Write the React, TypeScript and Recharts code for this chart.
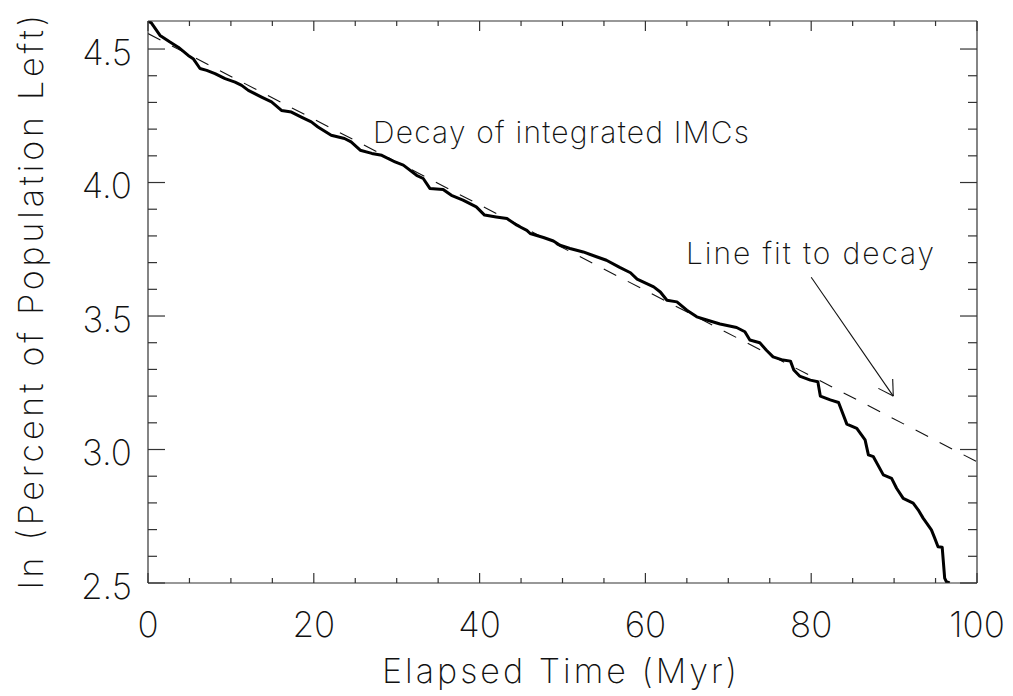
import React from "react";
import { LineChart, Line, XAxis, YAxis, ReferenceLine } from "recharts";

// ---- data ----
const timeMyr = [
  0, 0.4, 1.45, 2.65, 3.65, 4.85, 5.45, 6.27, 7.08, 8.08, 9.3, 10.5, 11.3, 12.1, 13.7, 14.9, 16.1, 17.3,
  18.5, 19.7, 20.5, 22.1, 23.7, 24.5, 25.6, 27.0, 28.2, 29.8, 30.8, 32.4, 33.2, 34.0, 35.6, 36.6, 38.0,
  39.6, 40.6, 42.0, 43.3, 44.5, 45.7, 46.1, 47.7, 48.9, 49.7, 50.9, 52.5, 54.1, 55.3, 56.9, 58.2, 59.0,
  61.0, 61.8, 62.6, 63.8, 65.0, 66.2, 67.4, 69.0, 71.0, 72.0, 72.6, 73.8, 74.6, 75.4, 76.6, 77.5, 77.9,
  78.6, 79.9, 80.8, 81.1, 82.3, 83.3, 84.3, 85.5, 86.5, 86.9, 87.5, 88.7, 89.7, 90.3, 91.1, 92.3, 92.9,
  93.5, 94.5, 94.9, 95.3, 95.8, 96.1, 96.3, 96.7,
];
const lnPercentLeft = [
  4.605, 4.598, 4.551, 4.526, 4.507, 4.476, 4.464, 4.427, 4.42, 4.408, 4.389, 4.376, 4.364, 4.345, 4.32,
  4.302, 4.27, 4.264, 4.245, 4.227, 4.208, 4.177, 4.165, 4.152, 4.121, 4.109, 4.102, 4.077, 4.065, 4.027,
  4.015, 3.978, 3.974, 3.952, 3.934, 3.909, 3.878, 3.871, 3.865, 3.84, 3.821, 3.809, 3.794, 3.781, 3.765,
  3.753, 3.74, 3.722, 3.709, 3.682, 3.662, 3.638, 3.609, 3.59, 3.559, 3.553, 3.522, 3.497, 3.485, 3.47,
  3.457, 3.441, 3.41, 3.4, 3.372, 3.347, 3.335, 3.331, 3.298, 3.275, 3.26, 3.254, 3.2, 3.186, 3.176,
  3.095, 3.079, 3.036, 2.98, 2.973, 2.905, 2.892, 2.855, 2.817, 2.799, 2.774, 2.743, 2.699, 2.668, 2.636,
  2.634, 2.518, 2.505, 2.5,
];
const fitTime = [0, 100];
const fitValue = [4.558, 2.954];

const xTicks = [0, 5, 10, 15, 20, 25, 30, 35, 40, 45, 50, 55, 60, 65, 70, 75, 80, 85, 90, 95, 100];
const xMajor = [0, 20, 40, 60, 80, 100];
const yTicks = [2.5, 2.6, 2.7, 2.8, 2.9, 3.0, 3.1, 3.2, 3.3, 3.4, 3.5, 3.6, 3.7, 3.8, 3.9, 4.0, 4.1, 4.2, 4.3, 4.4, 4.5];
const yMajor = [2.5, 3.0, 3.5, 4.0, 4.5];

const arrowStart = { t: 80, v: 3.645 };
const arrowTip = { t: 89.9, v: 3.2 };
const arrowBarb1 = { t: 88.1, v: 3.229 };
const arrowBarb2 = { t: 89.83, v: 3.264 };

const xTitle = "Elapsed Time (Myr)";
const yTitle = "ln (Percent of Population Left)";
const note1 = "Decay of integrated IMCs";
const note2 = "Line fit to decay";

// ---- layout constants ----
const W = 1013;
const H = 696;
const PL = 148;
const PT = 21;
const PR = 977;
const PB = 583;
const FONT = "Inter, 'DejaVu Sans', sans-serif";
const TXT = "#111";
const AX = "#333";
const FW = 200;

const curveData = timeMyr.map((t, i) => ({ t, v: lnPercentLeft[i] }));
const fitData = fitTime.map((t, i) => ({ t, v: fitValue[i] }));

const isMajor = (arr: number[], v: number) => arr.some((m) => Math.abs(m - v) < 1e-6);

const BottomTick = (p: any) => {
  const v = p.payload.value;
  const major = isMajor(xMajor, v);
  return (
    <g>
      <line x1={p.x} x2={p.x} y1={PB} y2={PB - (major ? 10 : 5)} stroke={AX} strokeWidth={1.2} />
      {major && (
        <text x={p.x} y={637} textAnchor="middle" fontFamily={FONT} fontWeight={FW} fontSize={35} fill={TXT}>
          {v}
        </text>
      )}
    </g>
  );
};
const TopTick = (p: any) => {
  const v = p.payload.value;
  const major = isMajor(xMajor, v);
  return <line x1={p.x} x2={p.x} y1={PT} y2={PT + (major ? 10 : 5)} stroke={AX} strokeWidth={1.2} />;
};
const LeftTick = (p: any) => {
  const v = p.payload.value;
  const major = isMajor(yMajor, v);
  return (
    <g>
      <line x1={PL} x2={PL + (major ? 17 : 9)} y1={p.y} y2={p.y} stroke={AX} strokeWidth={1.2} />
      {major && (
        <text x={132} y={p.y + 15.5} textAnchor="end" fontFamily={FONT} fontWeight={FW} fontSize={35} fill={TXT}>
          {v.toFixed(1)}
        </text>
      )}
    </g>
  );
};
const RightTick = (p: any) => {
  const v = p.payload.value;
  const major = isMajor(yMajor, v);
  return <line x1={PR} x2={PR - (major ? 17 : 9)} y1={p.y} y2={p.y} stroke={AX} strokeWidth={1.2} />;
};

export default function App() {
  return (
    <div style={{ position: "absolute", left: 0, top: 0, width: W, height: H, background: "#fff" }}>
      <LineChart
        width={W}
        height={H}
        margin={{ top: PT - 10, right: W - PR - 10, left: PL - 60, bottom: H - PB - 30 }}
      >
        <XAxis
          dataKey="t"
          type="number"
          domain={[0, 100]}
          ticks={xTicks}
          interval={0}
          height={30}
          tickLine={false}
          axisLine={{ stroke: AX, strokeWidth: 1.2 }}
          tick={<BottomTick />}
          allowDataOverflow
        />
        <XAxis
          xAxisId="top"
          orientation="top"
          dataKey="t"
          type="number"
          domain={[0, 100]}
          ticks={xTicks}
          interval={0}
          height={10}
          tickLine={false}
          axisLine={{ stroke: AX, strokeWidth: 1.2 }}
          tick={<TopTick />}
          allowDataOverflow
        />
        <YAxis
          type="number"
          domain={[2.5, 4.605]}
          ticks={yTicks}
          interval={0}
          width={60}
          tickLine={false}
          axisLine={{ stroke: AX, strokeWidth: 1.2 }}
          tick={<LeftTick />}
          allowDataOverflow
        />
        <YAxis
          yAxisId="right"
          orientation="right"
          type="number"
          domain={[2.5, 4.605]}
          ticks={yTicks}
          interval={0}
          width={10}
          tickLine={false}
          axisLine={{ stroke: AX, strokeWidth: 1.2 }}
          tick={<RightTick />}
          allowDataOverflow
        />
        <Line
          data={fitData}
          dataKey="v"
          type="linear"
          stroke="#111"
          strokeWidth={1.1}
          strokeDasharray="14 13"
          dot={false}
          activeDot={false}
          isAnimationActive={false}
        />
        <Line
          data={curveData}
          dataKey="v"
          type="linear"
          stroke="#000"
          strokeWidth={3}
          strokeLinejoin="round"
          dot={false}
          activeDot={false}
          isAnimationActive={false}
        />
        <ReferenceLine
          segment={[{ x: arrowStart.t, y: arrowStart.v }, { x: arrowTip.t, y: arrowTip.v }]}
          stroke="#111"
          strokeWidth={1.1}
          ifOverflow="visible"
        />
        <ReferenceLine
          segment={[{ x: arrowBarb1.t, y: arrowBarb1.v }, { x: arrowTip.t, y: arrowTip.v }]}
          stroke="#111"
          strokeWidth={1.1}
          ifOverflow="visible"
        />
        <ReferenceLine
          segment={[{ x: arrowBarb2.t, y: arrowBarb2.v }, { x: arrowTip.t, y: arrowTip.v }]}
          stroke="#111"
          strokeWidth={1.1}
          ifOverflow="visible"
        />
      </LineChart>
      <svg
        width={W}
        height={H}
        style={{ position: "absolute", left: 0, top: 0, pointerEvents: "none" }}
      >
        <g fontFamily={FONT} fontWeight={FW} fill={TXT}>
          <text x={559.5} y={683} textAnchor="middle" fontSize={34} textLength={355} lengthAdjust="spacing">
            {xTitle}
          </text>
          <text
            x={0}
            y={0}
            transform="translate(43,302) rotate(-90)"
            textAnchor="middle"
            fontSize={34}
            textLength={574}
            lengthAdjust="spacing"
          >
            {yTitle}
          </text>
          <text x={373} y={143} fontSize={30} textLength={376} lengthAdjust="spacing">
            {note1}
          </text>
          <text x={686} y={264} fontSize={30} textLength={248} lengthAdjust="spacing">
            {note2}
          </text>
        </g>
      </svg>
    </div>
  );
}
